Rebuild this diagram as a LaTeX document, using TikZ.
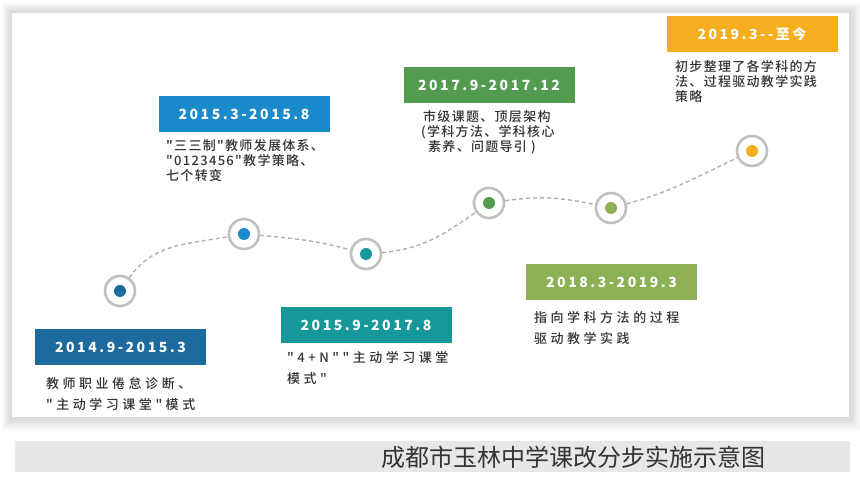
\documentclass[tikz,border=0pt]{standalone}
\usepackage{fontspec}
\usepackage{tikz}
\newfontfamily\notefont[LetterSpace=10]{Noto Sans CJK SC Medium}
\newfontfamily\widefont[LetterSpace=27]{Noto Sans CJK SC Medium}
\newfontfamily\datefont[LetterSpace=18]{Noto Sans CJK SC}
\newfontfamily\capfont{Noto Sans CJK SC}
\newcommand\notetight{\notefont\fontsize{13pt}{15pt}\selectfont}
\newcommand\noteloose{\widefont\fontsize{13pt}{20.5pt}\selectfont}

\definecolor{boxA}{HTML}{1C6A9E}
\definecolor{boxB}{HTML}{1A8ACB}
\definecolor{boxC}{HTML}{16989A}
\definecolor{boxD}{HTML}{539B51}
\definecolor{boxE}{HTML}{8CB053}
\definecolor{boxF}{HTML}{F5AF1E}
\definecolor{ringgray}{HTML}{C0C0C0}
\definecolor{trailgray}{HTML}{B0B0B0}
\definecolor{bandgray}{HTML}{E6E7E8}
\definecolor{notegray}{HTML}{333333}

\tikzset{
  ring/.style={circle, draw=ringgray, line width=2.6pt, fill=white, minimum size=30pt, inner sep=0pt},
  datebox/.style={rectangle, minimum width=171pt, minimum height=36pt, inner sep=0pt, text=white, font=\datefont\bfseries\fontsize{14pt}{16pt}\selectfont},
  note/.style={anchor=north west, align=left, inner sep=0pt, text=notegray},
  trail/.style={draw=trailgray, line width=1.4pt, dash pattern=on 4pt off 3pt}
}

\begin{document}
\begin{tikzpicture}[x=1pt,y=1pt]
	\useasboundingbox (0,0) rectangle (860,479);
	% card with its shadow
	\foreach \i in {1,...,10}
		\fill[black, opacity=0.014] (12-\i,466+\i) rectangle (849+1.2*\i,62-1.4*\i);
	\fill[white] (12,466) rectangle (849,62);
	
	% caption band
	\fill[bandgray] (15,38) rectangle (850,7);
	\node[text=notegray, font=\capfont\fontsize{24pt}{26pt}\selectfont] (cap) at (573,22) {成都市玉林中学课改分步实施示意图};
	
	% the stages on the trail
	\node[ring] (c1) at (120,188) {};
	\node[ring] (c2) at (244,245) {};
	\node[ring] (c3) at (366,225) {};
	\node[ring] (c4) at (489,276) {};
	\node[ring] (c5) at (611,271) {};
	\node[ring] (c6) at (752,328) {};
	
	\draw[trail] (c1) to[out=55,in=190] (c2);
	\draw[trail] (c2) to[out=-5,in=165] (c3);
	\draw[trail] (c3) to[out=5,in=215] (c4);
	\draw[trail] (c4) to[out=8,in=168] (c5);
	\draw[trail] (c5) to[out=15,in=205] (c6);
	
	\fill[boxA] (c1) circle (6pt);
	\fill[boxB] (c2) circle (6pt);
	\fill[boxC] (c3) circle (6pt);
	\fill[boxD] (c4) circle (6pt);
	\fill[boxE] (c5) circle (6pt);
	\fill[boxF] (c6) circle (6pt);
	
	% dates
	\node[datebox, fill=boxA] (b1) at (120.5,132) {2014.9-2015.3};
	\node[datebox, fill=boxB] (b2) at (244,364.5) {2015.3-2015.8};
	\node[datebox, fill=boxC] (b3) at (366,154) {2015.9-2017.8};
	\node[datebox, fill=boxD] (b4) at (489,394) {2017.9-2017.12};
	\node[datebox, fill=boxE] (b5) at (611.5,197) {2018.3-2019.3};
	\node[datebox, fill=boxF] (b6) at (752,444.5) {2019.3--至今};
	
	% notes
	\node[note, font=\noteloose] (t1) at (46,101.5) {教师职业倦怠诊断、\\"主动学习课堂"模式};
	\node[note, font=\notetight] (t2) at (166,339.5) {"三三制"教师发展体系、\\"0123456"教学策略、\\七个转变};
	\node[note, font=\noteloose] (t3) at (287,127.5) {"4+N""主动学习课堂\\模式"};
	\node[note, font=\notetight] (t4) at (421,368.5) {\hspace{2pt}市级课题、顶层架构\\(学科方法、学科核心\\\hspace{7pt}素养、问题导引 )};
	\node[note, font=\noteloose] (t5) at (534,167.5) {指向学科方法的过程\\驱动教学实践};
	\node[note, font=\notetight] (t6) at (675,418.5) {初步整理了各学科的方\\法、过程驱动教学实践\\策略};
\end{tikzpicture}
\end{document}
